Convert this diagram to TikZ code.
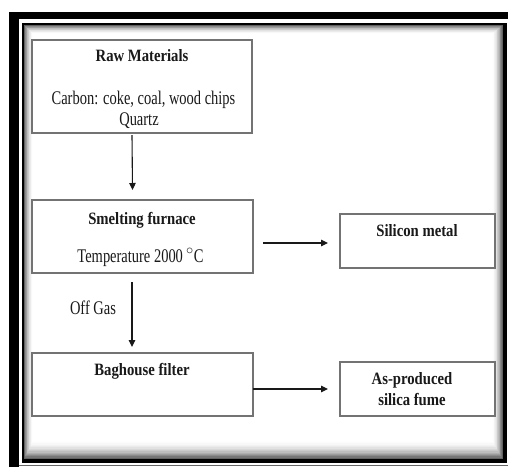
\documentclass[tikz,border=0pt]{standalone}
\usepackage{fontspec}
\newfontfamily\regf{Liberation Serif}[FakeStretch=0.75]
\newfontfamily\boldf{Liberation Serif}[FakeStretch=0.85]
\usetikzlibrary{arrows.meta,calc}
\begin{document}
\begin{tikzpicture}[x=1pt,y=-1pt,
  box/.style={draw=black!55, line width=1.2pt, fill=white, inner sep=0pt, outer sep=0pt},
  btxt/.style={font=\boldf\bfseries\fontsize{17.3}{21}\selectfont, anchor=base, inner sep=0pt, text=black!90},
  rtxt/.style={font=\regf\fontsize{19.3}{21}\selectfont, anchor=base, inner sep=0pt, text=black!90},
  arr/.style={-{Triangle[length=7pt,width=6.5pt]}, line width=1.1pt, black!90}
]
\useasboundingbox (0,0) rectangle (508,467);
% outer frame
\fill[black] (9,12) rectangle (508,19);
\fill[black] (9,12) rectangle (19,467);
\draw[black!60, line width=1pt] (19,465.5) -- (508,465.5);
% inner frame with inset shadow
\fill[black] (22,23) rectangle (506.5,462.5);
\foreach \i in {0,...,14} {
  \pgfmathsetmacro\c{62*(1-\i/14)^2}
  \fill[black!\c] (24+0.65*\i,25+0.65*\i) rectangle (502.5-0.75*\i,459-1.3*\i);
}
% boxes
\node[box, minimum width=220pt, minimum height=93pt] (raw) at (142,86.5) {};
\node[box, minimum width=221pt, minimum height=73pt] (smelt) at (142.5,236.5) {};
\node[box, minimum width=155pt, minimum height=54pt] (silicon) at (417.5,241) {};
\node[box, minimum width=221pt, minimum height=63pt] (bag) at (142.5,384.5) {};
\node[box, minimum width=155pt, minimum height=54pt] (fume) at (417.5,389) {};
% texts
\node[btxt] (rawT) at (142,61) {Raw Materials};
\node[rtxt] (rawC) at (143.5,104) {Carbon: coke, coal, wood chips};
\node[rtxt] (rawQ) at (139,125) {Quartz};
\node[btxt] (smeltT) at (142,224) {Smelting furnace};
\node[rtxt] (smeltC) at (140.5,262) {Temperature 2000\,$^{\circ}$C};
\node[btxt] (siliconT) at (417,236.5) {Silicon metal};
\node[btxt] (bagT) at (142,375) {Baghouse filter};
\node[btxt] (fumeA) at (412,384) {As-produced};
\node[btxt] (fumeB) at (412,405) {silica fume};
\node[rtxt] (offgas) at (93,314) {Off Gas};
% arrows
\draw[arr] ($(raw.south)+(-10,2)$) -- ($(smelt.north)+(-10,-10)$);
\draw[arr] ($(smelt.east)+(10,6.5)$) -- ($(smelt.east -| silicon.west)+(-12,6.5)$);
\draw[arr] ($(smelt.south)+(-10.5,9)$) -- ($(bag.north)+(-10.5,-6)$);
\draw[arr] ($(bag.east)+(0,4.5)$) -- ($(bag.east -| fume.west)+(-12,4.5)$);
\end{tikzpicture}
\end{document}
